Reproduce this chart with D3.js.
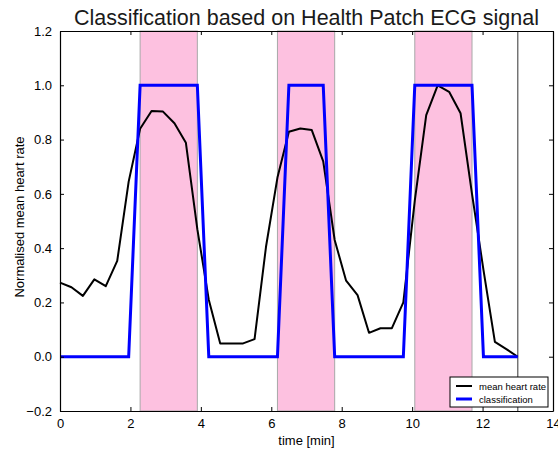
<!DOCTYPE html>
<html>
<head>
<meta charset="utf-8">
<script src="https://cdn.jsdelivr.net/npm/d3@7"></script>
<style>
  body { margin: 0; background: #fff; }
  svg text { font-family: "Liberation Sans", Arial, sans-serif; }
</style>
</head>
<body>
<div id="chart"></div>
<script>
// samples every 0.325 min
const times = [0, 0.325, 0.65, 0.975, 1.3, 1.625, 1.95, 2.275, 2.6, 2.925,
  3.25, 3.575, 3.9, 4.225, 4.55, 4.875, 5.2, 5.525, 5.85, 6.175,
  6.5, 6.825, 7.15, 7.475, 7.8, 8.125, 8.45, 8.775, 9.1, 9.425,
  9.75, 10.075, 10.4, 10.725, 11.05, 11.375, 11.7, 12.025, 12.35, 12.675, 13]
const heartRate = [0.273, 0.256, 0.224, 0.285, 0.26, 0.353, 0.645, 0.84, 0.905, 0.903,
  0.86, 0.788, 0.47, 0.21, 0.049, 0.049, 0.049, 0.065, 0.405, 0.66,
  0.829, 0.841, 0.835, 0.72, 0.43, 0.28, 0.227, 0.088, 0.105, 0.105,
  0.2, 0.575, 0.89, 1.0, 0.976, 0.897, 0.6, 0.32, 0.055, 0.028, 0.0]
const classification = [0, 0, 0, 0, 0, 0, 0, 1, 1, 1,
  1, 1, 1, 0, 0, 0, 0, 0, 0, 0,
  1, 1, 1, 1, 0, 0, 0, 0, 0, 0,
  0, 1, 1, 1, 1, 1, 1, 0, 0, 0, 0]
const bands = [[2.275, 3.9], [6.175, 7.8], [10.075, 11.7]]
const endTime = 13
const xTicks = [0, 2, 4, 6, 8, 10, 12, 14]
const yTicks = [-0.2, 0.0, 0.2, 0.4, 0.6, 0.8, 1.0, 1.2]
const legendLabels = ["mean heart rate", "classification"]
const seriesColors = ["#000000", "#0000ff"]

const width = 558
const height = 450
const margin = { top: 31, right: 5, bottom: 39, left: 60 }

const x = d3.scaleLinear().domain([0, 14]).range([margin.left, width - margin.right])
const y = d3.scaleLinear().domain([-0.2, 1.2]).range([height - margin.bottom, margin.top])

const svg = d3.select("#chart").append("svg")
  .attr("width", width)
  .attr("height", height)

// shaded bands
svg.selectAll("rect.band")
  .data(bands)
  .enter().append("rect")
  .attr("class", "band")
  .attr("x", d => x(d[0]))
  .attr("y", y(1.2))
  .attr("width", d => x(d[1]) - x(d[0]))
  .attr("height", y(-0.2) - y(1.2))
  .style("fill", "#fdc1e0")
  .style("stroke", "#a8a8a8")
  .style("stroke-width", 1)

// end marker
svg.append("line")
  .attr("x1", x(endTime)).attr("x2", x(endTime))
  .attr("y1", y(1.2)).attr("y2", y(-0.2))
  .style("stroke", "#555")
  .style("stroke-width", 1.2)

const pts = times.map((t, i) => ({ t, hr: heartRate[i], c: classification[i] }))

svg.append("path")
  .datum(pts)
  .attr("d", d3.line().x(d => x(d.t)).y(d => y(d.hr)))
  .style("fill", "none")
  .style("stroke", seriesColors[0])
  .style("stroke-width", 2)
  .style("stroke-linejoin", "round")

svg.append("path")
  .datum(pts)
  .attr("d", d3.line().x(d => x(d.t)).y(d => y(d.c)))
  .style("fill", "none")
  .style("stroke", seriesColors[1])
  .style("stroke-width", 3)

// axes, ticks pointing inward on all four sides
const fmtY = d => d3.format(".1f")(d).replace("-", "\u2212")
const tickLen = 4

svg.append("g")
  .attr("transform", `translate(0,${y(-0.2)})`)
  .call(d3.axisBottom(x).tickValues(xTicks).tickFormat(d3.format("d")).tickSizeInner(-tickLen).tickSizeOuter(0).tickPadding(8))
svg.append("g")
  .attr("transform", `translate(0,${y(1.2)})`)
  .call(d3.axisTop(x).tickValues(xTicks).tickFormat("").tickSizeInner(-tickLen).tickSizeOuter(0))
svg.append("g")
  .attr("transform", `translate(${x(0)},0)`)
  .call(d3.axisLeft(y).tickValues(yTicks).tickFormat(fmtY).tickSizeInner(-tickLen).tickSizeOuter(0).tickPadding(8))
svg.append("g")
  .attr("transform", `translate(${x(14)},0)`)
  .call(d3.axisRight(y).tickValues(yTicks).tickFormat("").tickSizeInner(-tickLen).tickSizeOuter(0))

svg.selectAll(".tick text")
  .style("font-size", "13px")
  .style("fill", "#000")
svg.selectAll(".domain").style("stroke", "#000").style("stroke-width", 1.2)
svg.selectAll(".tick line").style("stroke", "#000")

// titles
svg.append("text")
  .attr("x", (x(0) + x(14)) / 2)
  .attr("y", 25)
  .attr("text-anchor", "middle")
  .style("font-size", "21.5px")
  .style("fill", "#1a1a1a")
  .text("Classification based on Health Patch ECG signal")

svg.append("text")
  .attr("x", (x(0) + x(14)) / 2)
  .attr("y", 445)
  .attr("text-anchor", "middle")
  .style("font-size", "13px")
  .text("time [min]")

svg.append("text")
  .attr("transform", `translate(24,${(y(-0.2) + y(1.2)) / 2 - 4}) rotate(-90)`)
  .attr("text-anchor", "middle")
  .style("font-size", "13px")
  .text("Normalised mean heart rate")

// legend
const legend = svg.append("g").attr("transform", "translate(450,377)")
legend.append("rect")
  .attr("width", 98).attr("height", 30)
  .style("fill", "#fff")
  .style("stroke", "#000")
  .style("stroke-width", 1)
legendLabels.forEach((label, i) => {
  legend.append("line")
    .attr("x1", 6).attr("x2", 22)
    .attr("y1", 9 + i * 13).attr("y2", 9 + i * 13)
    .style("stroke", seriesColors[i])
    .style("stroke-width", i === 0 ? 2 : 3)
  legend.append("text")
    .attr("x", 29).attr("y", 12.5 + i * 13)
    .style("font-size", "9.5px")
    .text(label)
})
</script>
</body>
</html>
